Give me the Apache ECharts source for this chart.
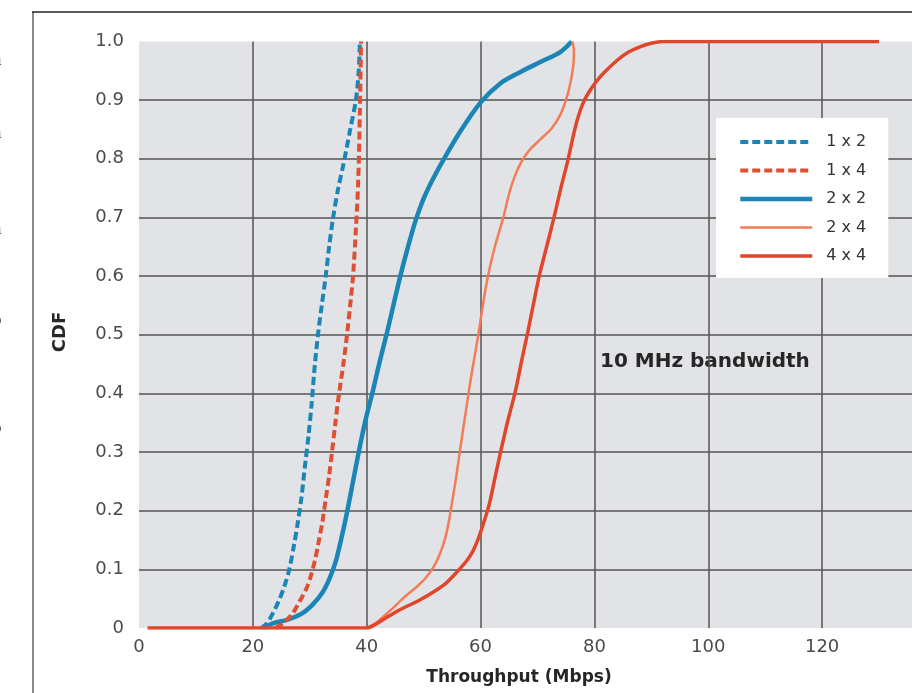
<!DOCTYPE html>
<html>
<head>
<meta charset="utf-8">
<script src="https://cdn.jsdelivr.net/npm/echarts@6/dist/echarts.min.js"></script>
<style>
  html, body { margin: 0; padding: 0; background: #fff; }
  #main { width: 912px; height: 693px; }
</style>
</head>
<body>
<div id="main"></div>
<script>
// legend names, in legend order
var names = ['1 x 2', '1 x 4', '2 x 2', '2 x 4', '4 x 4'];

// throughput (Mbps), CDF
var cdf1x2 = [[21.5,0],[22.5,0.008],[23.5,0.025],[24.5,0.045],[25.5,0.07],[26.4,0.1],[27.2,0.14],[27.9,0.18],[28.5,0.22],[29.2,0.28],[29.8,0.33],[30.3,0.38],[30.9,0.45],[31.5,0.505],[32.1,0.55],[32.8,0.6],[33.4,0.65],[34.1,0.7],[35,0.75],[35.9,0.79],[37.1,0.85],[38.1,0.9],[38.6,0.95],[38.8,1.0]];
var cdf1x4 = [[24,0],[25.5,0.01],[27,0.025],[28.3,0.047],[29.3,0.065],[30.1,0.086],[30.9,0.115],[31.5,0.144],[32.2,0.18],[32.8,0.22],[33.4,0.26],[33.9,0.3],[34.5,0.35],[35,0.39],[35.9,0.45],[36.6,0.505],[37.2,0.56],[37.6,0.6],[38.1,0.68],[38.5,0.76],[38.8,0.88],[39,1.0]];
var cdf2x2 = [[22,0],[23.5,0.008],[26,0.014],[28.5,0.024],[30.5,0.04],[32.2,0.06],[33.5,0.085],[34.6,0.115],[35.6,0.155],[36.6,0.2],[37.6,0.25],[38.6,0.3],[39.8,0.355],[41.1,0.405],[42.3,0.455],[43.6,0.505],[44.8,0.555],[45.9,0.6],[47.2,0.648],[48.5,0.692],[49.9,0.73],[51.5,0.763],[53.4,0.797],[56.4,0.846],[59.9,0.895],[63.4,0.928],[67,0.948],[70.5,0.965],[74,0.982],[76,1.0]];
var cdf2x4 = [[40,0],[41.5,0.008],[43,0.02],[44.5,0.033],[46,0.047],[47.5,0.06],[49,0.072],[50.5,0.087],[51.8,0.105],[52.8,0.125],[53.7,0.15],[54.4,0.18],[55,0.215],[55.6,0.25],[56.2,0.29],[56.8,0.33],[57.5,0.375],[58.2,0.42],[58.9,0.46],[59.6,0.5],[60.4,0.55],[61.3,0.6],[62.5,0.65],[64,0.7],[65,0.74],[66,0.77],[67.2,0.795],[68.6,0.815],[70.5,0.833],[72.5,0.852],[74,0.875],[75,0.9],[75.8,0.93],[76.3,0.96],[76.4,0.985],[76.1,1.0]];
var cdf4x4 = [[1.5,0],[40,0],[41.5,0.006],[43,0.015],[46,0.032],[49,0.046],[51.5,0.06],[54,0.077],[56,0.097],[57.6,0.115],[58.7,0.132],[59.7,0.155],[60.5,0.178],[61.5,0.21],[62.4,0.25],[63.4,0.295],[64.7,0.35],[66.1,0.403],[67.2,0.455],[68.3,0.505],[69.3,0.553],[70.3,0.6],[71.6,0.65],[72.9,0.7],[74.1,0.75],[75.4,0.8],[76.3,0.84],[77.1,0.87],[78,0.895],[79,0.913],[80.2,0.93],[81.5,0.945],[84,0.968],[86,0.982],[88,0.991],[90,0.997],[92,1.0],[130,1.0]];

// bits of the neighbouring page column that got cut off at the left
var edgeChars = ['r','n','l','n','-','n','l','o','l','-','l','o','-','-'];
var edgeY = [28,60,97,133,163,229,259,320,348,377,402,428,455,488];

var BLUE = '#1b85b5', RED = '#df4f33', RED2 = '#e0462b', ORANGE = '#f17c56';
var FONT = 'DejaVu Sans';

var chart = echarts.init(document.getElementById('main'));

var graphics = [
  { type: 'line', shape: { x1: 33, y1: 12, x2: 33, y2: 693 }, style: { stroke: '#8c8c8c', lineWidth: 2 } },
  { type: 'line', shape: { x1: 32, y1: 12, x2: 912, y2: 12 }, style: { stroke: '#222', lineWidth: 1.5 } },
  { type: 'text', left: 600, top: 352, style: { text: '10 MHz bandwidth', font: 'bold 20px ' + FONT, fill: '#262626' } },
  { type: 'text', x: 519, y: 678, style: { text: 'Throughput (Mbps)', font: 'bold 17px ' + FONT, fill: '#262626', align: 'center', verticalAlign: 'middle' } },
  { type: 'text', x: 60, y: 332, rotation: Math.PI / 2, style: { text: 'CDF', font: 'bold 18px ' + FONT, fill: '#262626', align: 'center', verticalAlign: 'middle' } }
];
edgeChars.forEach(function (c, i) {
  graphics.push({ type: 'text', x: -8, y: edgeY[i], style: { text: c, font: '19px Liberation Serif', fill: '#222', verticalAlign: 'middle' } });
});

var styles = {
  '1 x 2': { color: BLUE, width: 4, dashed: true },
  '1 x 4': { color: RED, width: 4, dashed: true },
  '2 x 2': { color: BLUE, width: 4.5, dashed: false },
  '2 x 4': { color: ORANGE, width: 2.5, dashed: false },
  '4 x 4': { color: RED2, width: 3.5, dashed: false }
};

function lineSeries(name, data, z) {
  var s = styles[name];
  return {
    name: name, type: 'line', data: data, symbol: 'none', showSymbol: false,
    smooth: 0.3, z: z,
    lineStyle: { color: s.color, width: s.width, type: s.dashed ? [8, 4] : 'solid' },
    itemStyle: { color: s.color }
  };
}

chart.setOption({
  animation: false,
  backgroundColor: '#fff',
  grid: {
    left: 139, top: 41.5, right: -24, bottom: 65,
    outerBoundsMode: 'none', containLabel: false,
    show: true, backgroundColor: '#e2e3e6', borderWidth: 0
  },
  xAxis: {
    type: 'value', min: 0, max: 140, interval: 20,
    axisLine: { show: false }, axisTick: { show: false },
    axisLabel: { fontFamily: FONT, fontSize: 18, color: '#4a4a4a', margin: 10 },
    splitLine: { show: true, showMinLine: false, lineStyle: { color: '#555', width: 1.5 } }
  },
  yAxis: {
    type: 'value', min: 0, max: 1, interval: 0.1,
    axisLine: { show: false }, axisTick: { show: false },
    axisLabel: {
      fontFamily: FONT, fontSize: 18, color: '#4a4a4a', margin: 15,
      formatter: function (v) { return v === 0 ? '0' : v.toFixed(1); }
    },
    splitLine: { show: true, showMinLine: false, showMaxLine: false, lineStyle: { color: '#555', width: 1.5 } }
  },
  legend: {
    data: names.map(function (n) {
      var s = styles[n];
      return { name: n, lineStyle: { color: s.color, width: s.width, type: s.dashed ? [8, 4] : 'solid' } };
    }),
    orient: 'vertical', left: 716, top: 118,
    padding: [16, 22, 14, 22], itemWidth: 72, itemHeight: 14, itemGap: 12.5,
    backgroundColor: '#fff',
    itemStyle: { opacity: 0 },
    textStyle: { fontFamily: FONT, fontSize: 16, color: '#333', padding: [0, 0, 0, 9] }
  },
  series: [
    lineSeries('2 x 2', cdf2x2, 2),
    lineSeries('1 x 2', cdf1x2, 3),
    lineSeries('2 x 4', cdf2x4, 4),
    lineSeries('1 x 4', cdf1x4, 5),
    lineSeries('4 x 4', cdf4x4, 6)
  ],
  graphic: graphics
});
</script>
</body>
</html>
